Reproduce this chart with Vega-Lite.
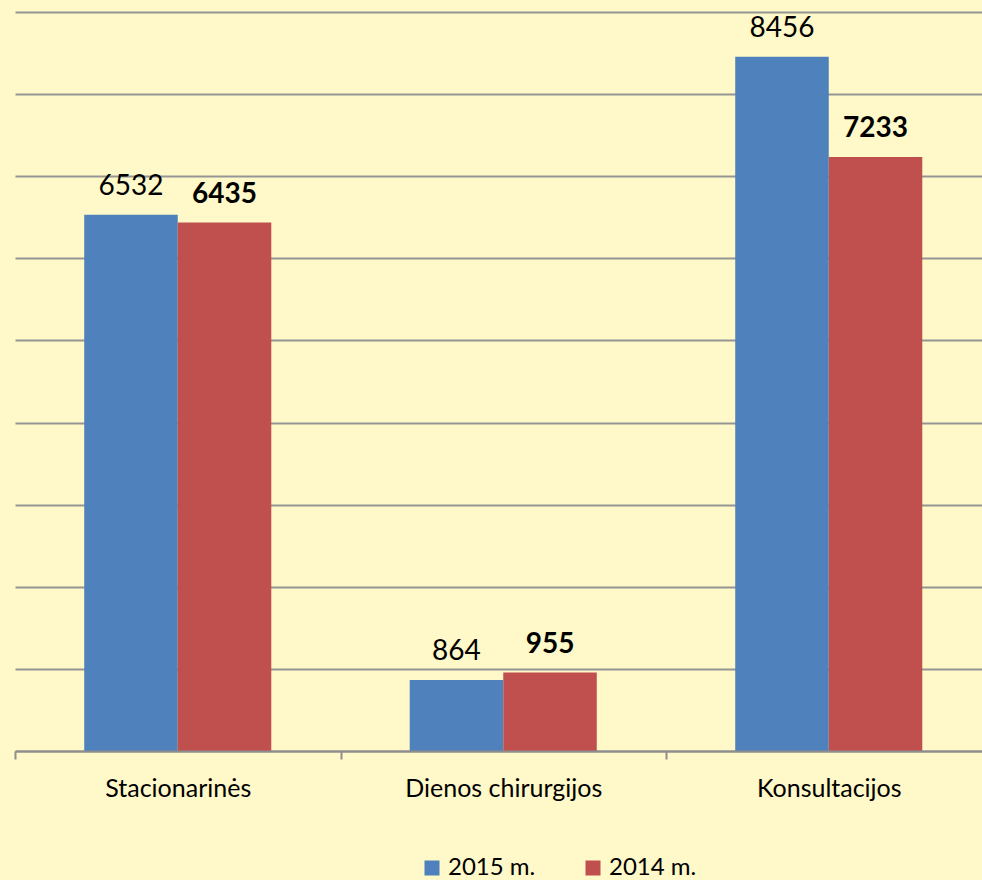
{
  "$schema": "https://vega.github.io/schema/vega-lite/v6.json",
  "autosize": {"type": "none"},
  "width": 967,
  "height": 739,
  "padding": {"left": 15, "top": 12, "right": 0, "bottom": 129},
  "background": "#FFF8C8",
  "config": {
    "view": {"stroke": null},
    "font": "Lato"
  },
  "data": {
    "values": [
      {"cat": "Stacionarinės", "year": "2015 m.", "value": 6532},
      {"cat": "Stacionarinės", "year": "2014 m.", "value": 6435},
      {"cat": "Dienos chirurgijos", "year": "2015 m.", "value": 864},
      {"cat": "Dienos chirurgijos", "year": "2014 m.", "value": 955},
      {"cat": "Konsultacijos", "year": "2015 m.", "value": 8456},
      {"cat": "Konsultacijos", "year": "2014 m.", "value": 7233}
    ]
  },
  "encoding": {
    "x": {
      "field": "cat",
      "type": "nominal",
      "sort": ["Stacionarinės", "Dienos chirurgijos", "Konsultacijos"],
      "scale": {"range": [0, 976.5], "paddingInner": 0, "paddingOuter": 0},
      "axis": {
        "title": null,
        "labelAngle": 0,
        "labelFont": "Lato",
        "labelFontSize": 25,
        "labelColor": "#000000",
        "labelBaseline": "alphabetic",
        "labelPadding": 37,
        "labelLimit": 0,
        "tickBand": "extent",
        "tickSize": 8,
        "tickWidth": 2,
        "tickColor": "#8E8E8E",
        "domainColor": "#8E8E8E",
        "domainWidth": 2,
        "grid": false,
        "zindex": 1
      }
    },
    "xOffset": {
      "field": "year",
      "type": "nominal",
      "sort": ["2015 m.", "2014 m."],
      "scale": {"paddingInner": 0, "paddingOuter": 0.74}
    },
    "y": {
      "field": "value",
      "type": "quantitative",
      "scale": {"domain": [0, 9000], "nice": false},
      "axis": {
        "title": null,
        "values": [0, 1000, 2000, 3000, 4000, 5000, 6000, 7000, 8000, 9000],
        "labels": false,
        "ticks": false,
        "domain": false,
        "grid": true,
        "gridColor": "#959595",
        "gridWidth": 2
      }
    }
  },
  "layer": [
    {
      "mark": {"type": "bar"},
      "encoding": {
        "color": {
          "field": "year",
          "type": "nominal",
          "scale": {"domain": ["2015 m.", "2014 m."], "range": ["#4F81BD", "#C0504D"]},
          "legend": {
            "title": null,
            "orient": "none",
            "direction": "horizontal",
            "legendX": 405,
            "legendY": 844,
            "padding": 0,
            "symbolType": "square",
            "symbolSize": 225,
            "symbolStrokeWidth": 0,
            "labelFont": "Lato",
            "labelFontSize": 24,
            "labelColor": "#000000",
            "labelOffset": 4,
            "columnPadding": 45
          }
        }
      }
    },
    {
      "transform": [{"filter": "datum.year == '2015 m.'"}],
      "mark": {"type": "text", "baseline": "alphabetic", "dy": -20, "font": "Lato", "fontSize": 28, "fontWeight": "normal", "color": "#000000"},
      "encoding": {"text": {"field": "value", "type": "quantitative"}}
    },
    {
      "transform": [{"filter": "datum.year == '2014 m.'"}],
      "mark": {"type": "text", "baseline": "alphabetic", "dy": -20, "font": "Lato", "fontSize": 28, "fontWeight": "bold", "color": "#000000"},
      "encoding": {"text": {"field": "value", "type": "quantitative"}}
    }
  ]
}
